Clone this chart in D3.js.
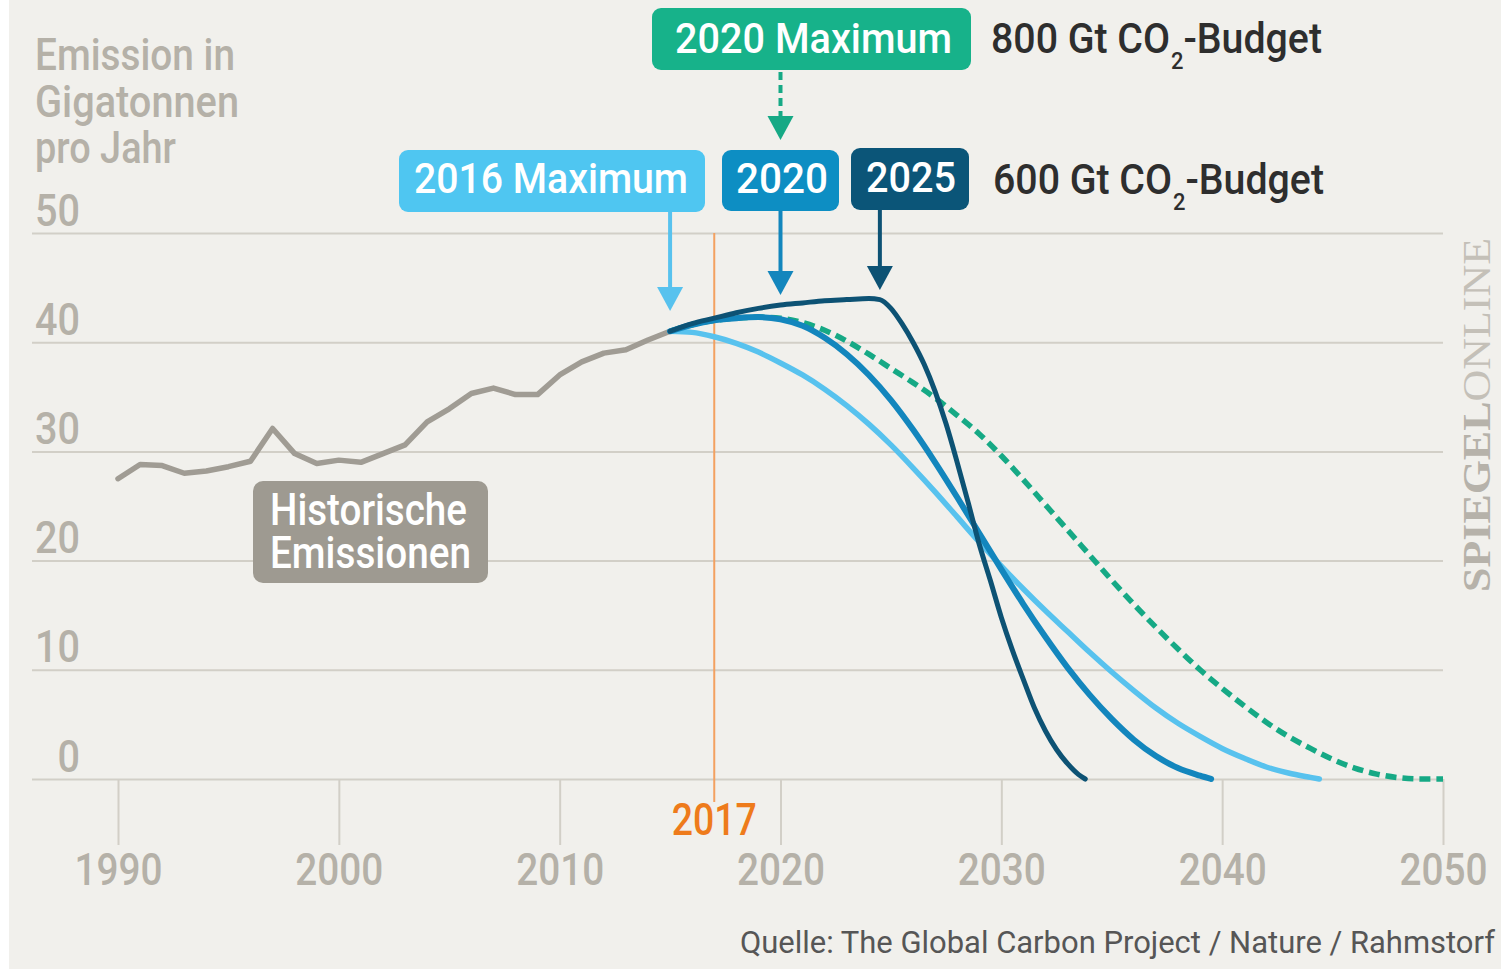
<!DOCTYPE html>
<html><head><meta charset="utf-8">
<script src="https://cdn.jsdelivr.net/npm/d3@7"></script>
<style>
html,body{margin:0;padding:0;background:#fff;}
svg{display:block;}
text{font-family:Roboto,"Noto Sans",sans-serif;}
</style></head><body>
<svg id="chart" width="1501" height="973"></svg>
<script>
// ---------- data ----------
const histYears  = [1990,1991,1992,1993,1994,1995,1996,1997,1998,1999,2000,2001,2002,2003,2004,2005,2006,2007,2008,2009,2010,2011,2012,2013,2014,2015];
const histValues = [27.5,28.8,28.7,28.0,28.2,28.6,29.1,32.1,29.8,28.9,29.2,29.0,29.8,30.6,32.7,33.9,35.3,35.8,35.2,35.2,37.0,38.2,39.0,39.3,40.2,41.0];

const peak2016Years  = [2015,2016,2017,2018,2019,2020,2021,2022,2023,2024,2025,2026,2027,2028,2029,2030,2031,2032,2033,2034,2035,2036,2037,2038,2039,2040,2041,2042,2043,2044,2044.4];
const peak2016Values = [41.0,40.9,40.5,39.9,39.1,38.1,37.0,35.7,34.2,32.5,30.6,28.5,26.3,24.0,21.7,19.5,17.4,15.4,13.5,11.6,9.8,8.1,6.5,5.1,3.9,2.8,1.9,1.1,0.55,0.15,0];

const peak2020Years  = [2015,2016,2017,2018,2019,2020,2021,2022,2023,2024,2025,2026,2027,2028,2029,2030,2031,2032,2033,2034,2035,2036,2037,2038,2039,2039.5];
const peak2020Values = [41.0,41.6,42.0,42.2,42.3,42.1,41.5,40.4,38.9,37.0,34.7,32.0,29.0,25.8,22.5,19.2,16.0,13.0,10.2,7.7,5.5,3.6,2.1,1.0,0.3,0];

const peak2025Years  = [2015,2016,2017,2018,2019,2020,2021,2022,2023,2024,2024.5,2025,2025.5,2026,2026.5,2027,2027.5,2028,2028.5,2029,2029.5,2030,2030.5,2031,2031.5,2032,2032.5,2033,2033.5,2033.8];
const peak2025Values = [41.0,41.7,42.2,42.7,43.1,43.4,43.6,43.8,43.9,44.0,43.9,43.1,41.7,40.0,38.0,35.5,32.5,29.0,25.3,21.5,18.2,14.8,11.8,9.1,6.5,4.4,2.7,1.4,0.4,0];

const max2020Years  = [2015,2016,2017,2018,2019,2020,2021,2022,2023,2024,2025,2026,2027,2028,2029,2030,2031,2032,2033,2034,2035,2036,2037,2038,2039,2040,2041,2042,2043,2044,2045,2046,2047,2048,2049,2050];
const max2020Values = [41.0,41.6,42.0,42.2,42.3,42.2,41.8,41.1,40.1,38.9,37.6,36.3,34.9,33.3,31.6,29.6,27.4,25.1,22.8,20.5,18.2,16.0,13.9,11.9,10.0,8.3,6.7,5.2,3.9,2.8,1.8,1.0,0.45,0.12,0,0];

const xTicks = [1990,2000,2010,2020,2030,2040,2050];
const yTicks = [0,10,20,30,40,50];
const markYear = 2017;

const titleLines = ["Emission in","Gigatonnen","pro Jahr"];
const histLabel = ["Historische","Emissionen"];
const sourceText = "Quelle: The Global Carbon Project / Nature / Rahmstorf";

// ---------- setup ----------
const svg = d3.select("#chart");
const x = d3.scaleLinear().domain([1990,2050]).range([118,1443]);
const y = d3.scaleLinear().domain([0,50]).range([779,233]);

const C = {
  bg:"#f1f0ec", grid:"#d2cfc7", axisText:"#b5b1a8",
  hist:"#a09c94", histBox:"#9e9a91",
  light:"#58c2ee", lightBox:"#4fc6f1",
  mid:"#1386bd", midBox:"#0d8ec3",
  dark:"#0d5274", darkBox:"#0b5578",
  green:"#16a985", greenBox:"#17b28a",
  orange:"#f3a160", orangeText:"#ee7b1b",
  budget:"#2e2e2e", source:"#565656"
};
function cond(sel, len){ return sel.attr("textLength", len).attr("lengthAdjust","spacingAndGlyphs"); }

svg.append("rect").attr("x",9).attr("y",0).attr("width",1492).attr("height",969).attr("fill",C.bg);

// y grid + labels
const gy = svg.append("g").attr("transform","translate(32,0)")
  .call(d3.axisRight(y).tickValues(yTicks).tickSize(1411).tickFormat(d3.format("d")));
gy.select(".domain").remove();
gy.selectAll(".tick line").attr("stroke",C.grid).attr("stroke-width",2);
gy.selectAll(".tick text").attr("x",48).attr("y",-8).attr("dy",0)
  .attr("text-anchor","end").attr("fill",C.axisText)
  .style("font-size","44px").style("font-weight",500).attr("font-family",null)
  .each(function(d){ cond(d3.select(this), String(d).length*22.5); });

// x axis ticks + labels
const gx = svg.append("g").attr("transform","translate(0,779)")
  .call(d3.axisBottom(x).tickValues(xTicks).tickSize(66).tickFormat(d3.format("d")));
gx.select(".domain").remove();
gx.selectAll(".tick line").attr("stroke",C.grid).attr("stroke-width",2);
gx.selectAll(".tick text").attr("y",106).attr("dy",0).attr("fill",C.axisText)
  .style("font-size","44px").style("font-weight",500).attr("font-family",null)
  .each(function(){ cond(d3.select(this), 88); });

// title (one text, three lines)
const title = svg.append("text").attr("fill",C.axisText).style("font-size","44px").style("font-weight",500);
title.selectAll("tspan").data(titleLines).join("tspan")
  .attr("x",35).attr("y",(d,i)=>70+i*46.5).text(d=>d)
  .each(function(d,i){ cond(d3.select(this), [200,204,141][i]); });

// 2017 marker
svg.append("line").attr("x1",x(markYear)).attr("x2",x(markYear))
  .attr("y1",y(50)).attr("y2",802).attr("stroke",C.orange).attr("stroke-width",2);
cond(svg.append("text").attr("x",x(markYear)).attr("y",835).attr("text-anchor","middle")
  .attr("fill",C.orangeText).style("font-size","44px").style("font-weight",500).text(String(markYear)),85);

// lines
const line = d3.line().x(d=>x(d[0])).y(d=>y(d[1]));
const smooth = d3.line().x(d=>x(d[0])).y(d=>y(d[1])).curve(d3.curveMonotoneX);
const zip = (a,b)=>a.map((v,i)=>[v,b[i]]);

svg.append("path").attr("d",line(zip(histYears,histValues)))
  .attr("fill","none").attr("stroke",C.hist).attr("stroke-width",5.5)
  .attr("stroke-linejoin","round").attr("stroke-linecap","round");

svg.append("path").attr("d",smooth(zip(max2020Years,max2020Values)))
  .attr("fill","none").attr("stroke",C.green).attr("stroke-width",5.5)
  .attr("stroke-dasharray","11,6");
svg.append("path").attr("d",smooth(zip(peak2016Years,peak2016Values)))
  .attr("fill","none").attr("stroke",C.light).attr("stroke-width",5.5).attr("stroke-linecap","round");
svg.append("path").attr("d",smooth(zip(peak2020Years,peak2020Values)))
  .attr("fill","none").attr("stroke",C.mid).attr("stroke-width",6).attr("stroke-linecap","round");
svg.append("path").attr("d",smooth(zip(peak2025Years,peak2025Values)))
  .attr("fill","none").attr("stroke",C.dark).attr("stroke-width",5).attr("stroke-linecap","round");

// historic label (one text, two lines)
svg.append("rect").attr("x",253).attr("y",481).attr("width",235).attr("height",102).attr("rx",10).attr("fill",C.histBox);
const hl = svg.append("text").attr("fill","#fff").style("font-size","44px").style("font-weight",500);
hl.selectAll("tspan").data(histLabel).join("tspan")
  .attr("x",270).attr("y",(d,i)=>525+i*43).text(d=>d)
  .each(function(d,i){ cond(d3.select(this), [197,201][i]); });

// annotation boxes + arrows
function box(x0,y0,w,h,fill,label,tx,ty,tl){
  svg.append("rect").attr("x",x0).attr("y",y0).attr("width",w).attr("height",h).attr("rx",9).attr("fill",fill);
  cond(svg.append("text").attr("x",tx).attr("y",ty).attr("fill","#fff")
    .style("font-size","43px").style("font-weight",500).text(label), tl);
}
function arrow(ax,y0,tip,color,dashed){
  const l = svg.append("line").attr("x1",ax).attr("x2",ax).attr("y1",y0).attr("y2",tip-22)
    .attr("stroke",color).attr("stroke-width",4);
  if(dashed) l.attr("stroke-dasharray","8,5");
  svg.append("path").attr("d",`M${ax-13},${tip-24}L${ax+13},${tip-24}L${ax},${tip}Z`).attr("fill",color);
}
box(652,8,319,62,C.greenBox,"2020 Maximum",675,53,277);
arrow(x(2020),72,140,C.green,true);
box(399,150,306,62,C.lightBox,"2016 Maximum",414,193,274);
arrow(x(2015),212,311,C.light,false);
box(722,150,117,61,C.midBox,"2020",736,193,92);
arrow(x(2020),211,295,C.mid,false);
box(851,148,118,62,C.darkBox,"2025",866,192,90);
arrow(x(2024.5),210,290,C.dark,false);

// budget texts (one text each, with subscript)
function budget(x0,base,num){
  const t = svg.append("text").attr("x",x0).attr("y",base).attr("fill",C.budget)
    .style("font-weight",500).style("font-size","43px");
  t.append("tspan").text(num+" Gt CO");
  t.append("tspan").attr("dx",1).attr("dy",16).style("font-size","24px").text("2");
  t.append("tspan").attr("dx",0).attr("dy",-16).text("-Budget");
  cond(t,331);
}
budget(991,53,"800");
budget(993,194,"600");

// source
cond(svg.append("text").attr("x",1495).attr("y",953).attr("text-anchor","end")
  .attr("fill",C.source).style("font-size","32px").text(sourceText),755);

// logo
const logo = svg.append("text").attr("transform","translate(1490,592) rotate(-90)")
  .style("font-family","'Liberation Serif','DejaVu Serif',serif").style("font-size","41px");
logo.append("tspan").attr("fill","#b6b2aa").style("font-weight",700).text("SPIEGEL");
logo.append("tspan").attr("fill","#c4c0b8").text("ONLINE");
cond(logo,354);
</script>
</body></html>
